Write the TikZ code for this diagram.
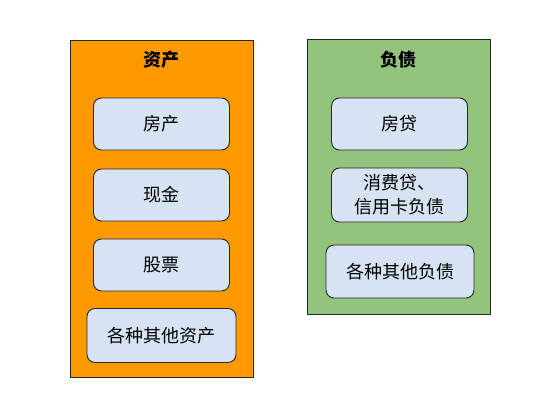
\documentclass[tikz,border=0pt]{standalone}
\usepackage{fontspec}
\newfontfamily\cjk{Noto Sans CJK SC}
\definecolor{assetorange}{HTML}{FF9900}
\definecolor{debtgreen}{HTML}{93C47D}
\definecolor{itemblue}{HTML}{D5E3F2}

\begin{document}
\begin{tikzpicture}[x=1pt,y=-1pt,
  group/.style={draw=black!85,line width=0.8pt},
  title/.style={font=\cjk\bfseries\fontsize{18}{22}\selectfont},
  item/.style={draw=black!85,line width=0.9pt,rounded corners=8pt,fill=itemblue,
    minimum width=136pt,minimum height=52pt,inner sep=0pt,align=center,
    font=\cjk\fontsize{18}{24}\selectfont},
  wide/.style={minimum width=149pt,minimum height=54pt}]
\path[use as bounding box,fill=white] (0,0) rectangle (533,400);
% Zichan
\draw[group,fill=assetorange] (70,40) rectangle (253,377);
\node[title] (zichan) at (161.5,60) {资产};
\node[item] (fangchan) at (161.5,124) {房产};
\node[item] (xianjin) at (161.5,195) {现金};
\node[item] (gupiao) at (161.5,265) {股票};
\node[item,wide] (qitazichan) at (161.5,335.5) {各种其他资产};
% Fuzhai
\draw[group,fill=debtgreen] (307,39) rectangle (490,314);
\node[title] (fuzhai) at (398.5,60) {负债};
\node[item] (fangdai) at (399.5,124) {房贷};
\node[item,minimum height=54pt] (xiaofeidai) at (399.5,195) {消费贷、\\信用卡负债};
\node[item,minimum width=148pt,minimum height=53pt] (qitafuzhai) at (400,271.5) {各种其他负债};
\end{tikzpicture}
\end{document}
